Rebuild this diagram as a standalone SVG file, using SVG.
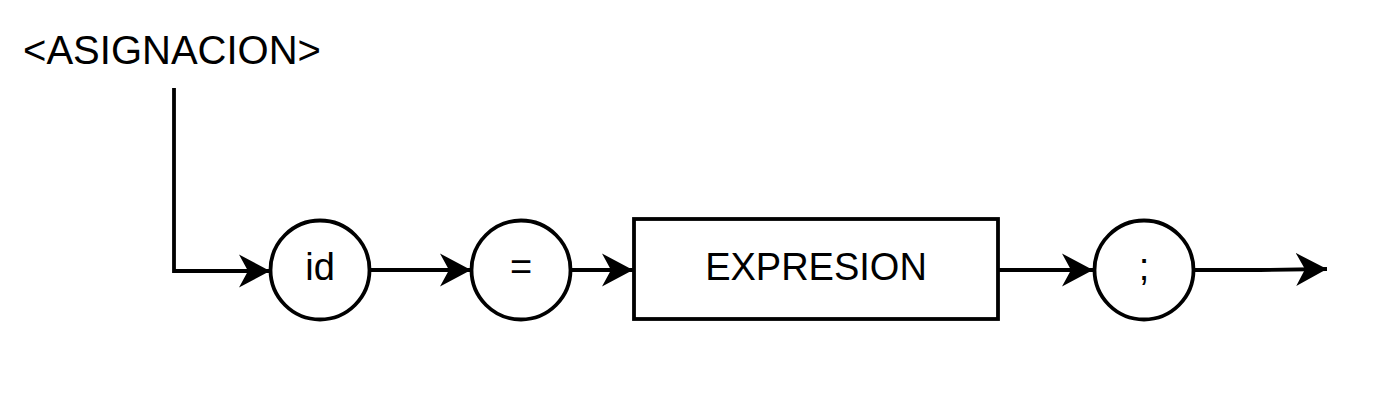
<svg xmlns="http://www.w3.org/2000/svg" width="1400" height="412" viewBox="0 0 1400 412">
<defs>
<style>
.ln{fill:none;stroke:#000;stroke-width:3.8;}
.nd{fill:#fff;stroke:#000;stroke-width:3.8;}
.tx{font-family:"Liberation Sans",Arial,sans-serif;font-size:38px;fill:#000;text-anchor:middle;}
</style>
<marker id="arr" markerUnits="userSpaceOnUse" markerWidth="34" markerHeight="36" refX="31" refY="17" orient="auto" viewBox="0 0 34 36">
<path d="M0,0.5 L31,17 L0,33.5 L9,17 Z" fill="#000"/>
</marker>
</defs>
<rect width="1400" height="412" fill="#fff"/>
<g id="title">
<text x="172" y="64" class="tx" style="font-size:40px">&lt;ASIGNACION&gt;</text>
</g>
<g id="connectors">
<path class="ln" d="M174,88 L174,271 L270,271" marker-end="url(#arr)"/>
<path class="ln" d="M370,270 L471,270" marker-end="url(#arr)"/>
<path class="ln" d="M571,270 L633,270" marker-end="url(#arr)"/>
<path class="ln" d="M998,270 L1093,270" marker-end="url(#arr)"/>
<path class="ln" d="M1194,270 L1260,270 L1327,269" marker-end="url(#arr)"/>
</g>
<g id="node-id">
<circle class="nd" cx="320" cy="270" r="49.5"/>
<text x="320" y="280" class="tx">id</text>
</g>
<g id="node-eq">
<circle class="nd" cx="521" cy="270" r="49.5"/>
<text x="521" y="280" class="tx">=</text>
</g>
<g id="node-expresion">
<rect class="nd" x="634" y="219" width="364" height="100"/>
<text x="816" y="280" class="tx">EXPRESION</text>
</g>
<g id="node-semicolon">
<circle class="nd" cx="1144" cy="270" r="49.5"/>
<text x="1144" y="280" class="tx">;</text>
</g>
</svg>
